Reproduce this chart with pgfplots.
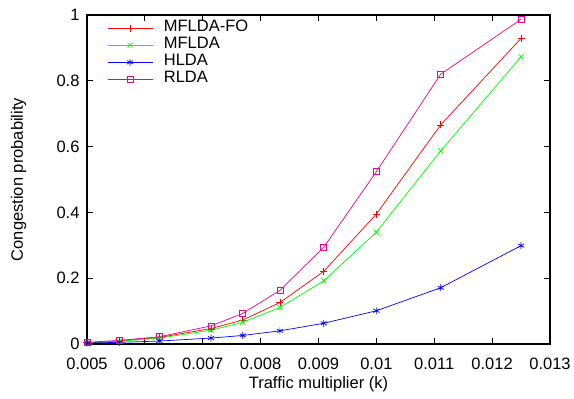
\documentclass[border=0pt]{standalone}
\usepackage{pgfplots}
\pgfplotsset{compat=1.18}
\usepackage{fontspec}
\setmainfont{Liberation Sans}
\newcommand{\gfont}{\fontsize{16.5bp}{19bp}\selectfont}
\begin{document}
\begin{tikzpicture}
\begin{axis}[
  name=ax,
  scale only axis,
  width=463bp, height=329bp,
  xmin=0.005, xmax=0.013, ymin=0, ymax=1,
  xtick={0.005,0.006,0.007,0.008,0.009,0.01,0.011,0.012,0.013},
  ytick={0,0.2,0.4,0.6,0.8,1},
  scaled x ticks=false, scaled y ticks=false,
  xticklabels={0.005,0.006,0.007,0.008,0.009,0.01,0.011,0.012,0.013},
  yticklabels={0,0.2,0.4,0.6,0.8,1},
  tick align=inside,
  tick style={black, line width=0.8pt},
  major tick length=6bp,
  axis line style={line width=1.2pt},
  /pgf/number format/assume math mode=true,
  tick label style={font=\gfont},
  label style={font=\gfont},
  xticklabel style={yshift=-10bp},
  yticklabel style={xshift=-4bp},
  xlabel={Traffic multiplier (k)},
  ylabel={Congestion probability},
  xlabel style={at={([yshift=-40bp]axis description cs:0.5,0)}, anchor=center},
  ylabel style={at={([xshift=-68.5bp]axis description cs:0,0.5)}, anchor=center},
  legend cell align=left,
  legend style={at={(0.0432,0.986)}, anchor=north west, draw=none, fill=none,
    inner sep=0pt, column sep=11bp, row sep=0pt,
    nodes={inner sep=0pt, text height=12bp, text depth=5bp},
    font=\gfont},
  legend image code/.code={\draw[mark repeat=2,mark phase=2] plot coordinates {(0bp,0bp) (22.5bp,0bp) (45bp,0bp)};},
  every axis plot/.append style={line width=0.7pt, mark size=3.5bp},
]
\addplot[red, mark=+] coordinates {
(0.005,0.004) (0.005556,0.009) (0.00625,0.020) (0.007143,0.047) (0.007692,0.073) (0.008333,0.126) (0.009091,0.221) (0.01,0.395) (0.011111,0.666) (0.0125,0.929)};
\addlegendentry{MFLDA-FO}
\addplot[green, mark=x] coordinates {
(0.005,0.004) (0.005556,0.008) (0.00625,0.018) (0.007143,0.042) (0.007692,0.066) (0.008333,0.111) (0.009091,0.192) (0.01,0.340) (0.011111,0.587) (0.0125,0.873)};
\addlegendentry{MFLDA}
\addplot[blue, mark=asterisk] coordinates {
(0.005,0.003) (0.005556,0.005) (0.00625,0.009) (0.007143,0.018) (0.007692,0.026) (0.008333,0.040) (0.009091,0.063) (0.01,0.101) (0.011111,0.171) (0.0125,0.299)};
\addlegendentry{HLDA}
\addplot[magenta, mark=square, mark size=3bp] coordinates {
(0.005,0.005) (0.005556,0.011) (0.00625,0.022) (0.007143,0.055) (0.007692,0.093) (0.008333,0.163) (0.009091,0.294) (0.01,0.524) (0.011111,0.820) (0.0125,0.987)};
\addlegendentry{RLDA}
\end{axis}
\pgfresetboundingbox
\path[use as bounding box] ([xshift=-87bp,yshift=-55bp]ax.south west) rectangle ([xshift=24bp,yshift=15bp]ax.north east);
\end{tikzpicture}
\end{document}
